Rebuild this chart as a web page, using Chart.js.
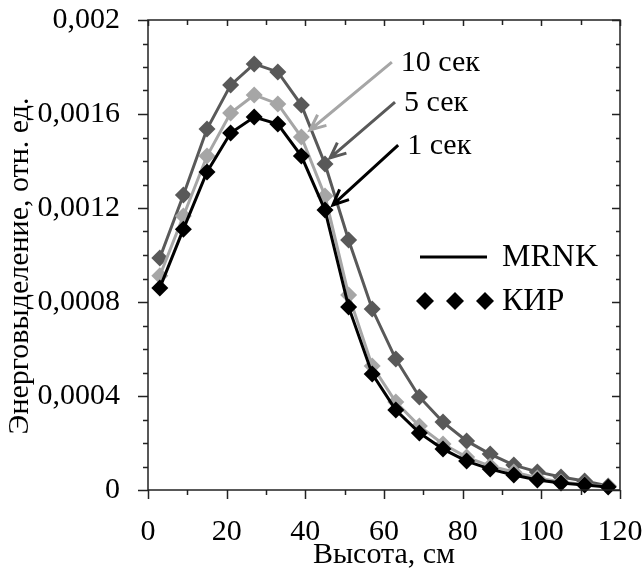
<!DOCTYPE html>
<html>
<head>
<meta charset="utf-8">
<script src="https://cdn.jsdelivr.net/npm/chart.js@4/dist/chart.umd.min.js"></script>
<style>
  body { margin: 0; background: #fff; }
  #wrap { width: 643px; height: 573px; }
</style>
</head>
<body>
<div id="wrap"><canvas id="chart"></canvas></div>
<script>
// heights, cm
const heights = [3, 9, 15, 21, 27, 33, 39, 45, 51, 57, 63, 69, 75, 81, 87, 93, 99, 105, 111, 117];

// energy release, rel. units
const sec1 = [0.00086, 0.00111, 0.001353, 0.001519, 0.001587, 0.001557, 0.001421, 0.001191, 0.000779, 0.000494,
  0.00034, 0.000243, 0.000174, 0.000123, 0.000089, 0.000064, 0.000043, 0.00003, 0.000021, 0.000013];
const sec10 = [0.000912, 0.001166, 0.001421, 0.001604, 0.001681, 0.001643, 0.001502, 0.001251, 0.00083, 0.000528,
  0.000374, 0.000272, 0.000196, 0.00014, 0.000102, 0.000077, 0.000051, 0.000034, 0.000023, 0.000015];
const sec5 = [0.000987, 0.001255, 0.001536, 0.001723, 0.001813, 0.001779, 0.001638, 0.001387, 0.001064, 0.00077,
  0.000557, 0.000396, 0.000289, 0.000209, 0.000153, 0.000106, 0.000077, 0.000055, 0.000038, 0.000017];

const xTicks = [0, 20, 40, 60, 80, 100, 120];
const yTicks = [0, 0.0004, 0.0008, 0.0012, 0.0016, 0.002];

const legendLabels = ["MRNK", "КИР"];
// callouts: label, arrow start (x, y), arrow tip (x, y) in data units
const callouts = [
  { text: "10 сек", from: [62.0, 0.001821], to: [41.2, 0.001532], color: "#a6a6a6" },
  { text: "5 сек", from: [62.8, 0.001651], to: [46.3, 0.001413], color: "#595959" },
  { text: "1 сек", from: [63.6, 0.001468], to: [47.0, 0.001213], color: "#000000" }
];

const FONT = "'Liberation Serif', 'Times New Roman', serif";

function pts(arr) {
  return arr.map((v, i) => ({ x: heights[i], y: v }));
}

function mkSet(label, arr, color) {
  return {
    label: label,
    data: pts(arr),
    borderColor: color,
    backgroundColor: color,
    borderWidth: 3,
    pointStyle: "rectRot",
    pointRadius: 8.5,
    pointBorderWidth: 0,
    pointBackgroundColor: color,
    tension: 0,
    clip: false
  };
}

function fmt(v) {
  return String(Number(v.toFixed(5))).replace(".", ",");
}

const framePlugin = {
  id: "frame",
  afterDraw(chart) {
    const ctx = chart.ctx;
    const a = chart.chartArea;
    const xs = chart.scales.x, ys = chart.scales.y;
    ctx.save();
    ctx.strokeStyle = "#222";
    ctx.lineWidth = 1.5;
    ctx.strokeRect(a.left, a.top, a.right - a.left, a.bottom - a.top);

    ctx.beginPath();
    for (let i = 0; i <= 20; i++) {
      const v = i * 0.0001;
      const y = Math.round(ys.getPixelForValue(v)) + 0.5;
      const major = i % 4 === 0;
      ctx.moveTo(a.left - (major ? 10 : 5), y);
      ctx.lineTo(a.left, y);
      ctx.moveTo(a.right - (major ? 8 : 4), y);
      ctx.lineTo(a.right, y);
    }
    for (let i = 0; i <= 12; i++) {
      const x = Math.round(xs.getPixelForValue(i * 10)) + 0.5;
      const major = i % 2 === 0;
      ctx.moveTo(x, a.bottom);
      ctx.lineTo(x, a.bottom + (major ? 9 : 5));
      ctx.moveTo(x, a.top);
      ctx.lineTo(x, a.top + (major ? 6 : 5));
    }
    ctx.stroke();

    // y axis title, drawn by hand so it can sit a bit below centre like the original
    ctx.save();
    ctx.translate(20, 266);
    ctx.rotate(-Math.PI / 2);
    ctx.font = "30px " + FONT;
    ctx.fillStyle = "#000";
    ctx.textAlign = "center";
    ctx.textBaseline = "middle";
    ctx.fillText("Энерговыделение, отн. ед.", 0, 0);
    ctx.restore();

    // legend
    ctx.fillStyle = "#000";
    ctx.strokeStyle = "#000";
    ctx.lineWidth = 3;
    ctx.beginPath();
    ctx.moveTo(420, 257);
    ctx.lineTo(487, 257);
    ctx.stroke();
    [425, 455, 485].forEach(cx => {
      ctx.beginPath();
      ctx.moveTo(cx - 9, 301);
      ctx.lineTo(cx, 292);
      ctx.lineTo(cx + 9, 301);
      ctx.lineTo(cx, 310);
      ctx.closePath();
      ctx.fill();
    });
    ctx.font = "32px " + FONT;
    ctx.textBaseline = "middle";
    ctx.textAlign = "left";
    ctx.fillText(legendLabels[0], 502, 258);
    ctx.fillText(legendLabels[1], 502, 302);

    // callouts
    ctx.font = "30px " + FONT;
    callouts.forEach(c => {
      const x0 = xs.getPixelForValue(c.from[0]), y0 = ys.getPixelForValue(c.from[1]);
      const x1 = xs.getPixelForValue(c.to[0]), y1 = ys.getPixelForValue(c.to[1]);
      ctx.strokeStyle = c.color;
      ctx.lineWidth = 3;
      ctx.beginPath();
      ctx.moveTo(x0, y0);
      ctx.lineTo(x1, y1);
      const ang = Math.atan2(y1 - y0, x1 - x0);
      const L = 17, sp = 0.42;
      ctx.moveTo(x1 - L * Math.cos(ang - sp), y1 - L * Math.sin(ang - sp));
      ctx.lineTo(x1, y1);
      ctx.lineTo(x1 - L * Math.cos(ang + sp), y1 - L * Math.sin(ang + sp));
      ctx.stroke();
      ctx.fillStyle = "#000";
      ctx.fillText(c.text, x0 + 9, y0 + 1);
    });
    ctx.restore();
  }
};

new Chart(document.getElementById("chart"), {
  type: "line",
  data: {
    datasets: [
      mkSet("1 сек", sec1, "#000000"),
      mkSet("10 сек", sec10, "#a6a6a6"),
      mkSet("5 сек", sec5, "#595959")
    ]
  },
  options: {
    responsive: true,
    maintainAspectRatio: false,
    animation: false,
    layout: { padding: { left: 0, top: 20, right: 23, bottom: 0 } },
    plugins: { legend: { display: false }, tooltip: { enabled: false } },
    scales: {
      x: {
        type: "linear",
        min: 0,
        max: 120,
        afterFit: s => { s.height = 83; s.paddingLeft = 0; s.paddingRight = 0; },
        afterBuildTicks: s => { s.ticks = xTicks.map(v => ({ value: v })); },
        ticks: { color: "#000", font: { family: FONT, size: 30 }, padding: 16, maxRotation: 0 },
        grid: { display: false },
        border: { display: false },
        title: { display: true, text: "Высота, см", color: "#000", font: { family: FONT, size: 30 }, padding: { top: 0, bottom: 0 } }
      },
      y: {
        min: 0,
        max: 0.002,
        afterFit: s => { s.width = 148; s.paddingTop = 0; s.paddingBottom = 0; },
        afterBuildTicks: s => { s.ticks = yTicks.map(v => ({ value: v })); },
        ticks: { color: "#000", font: { family: FONT, size: 30 }, padding: 20, callback: v => fmt(v) },
        grid: { display: false },
        border: { display: false },
        title: { display: false }
      }
    }
  },
  plugins: [framePlugin]
});
</script>
</body>
</html>
